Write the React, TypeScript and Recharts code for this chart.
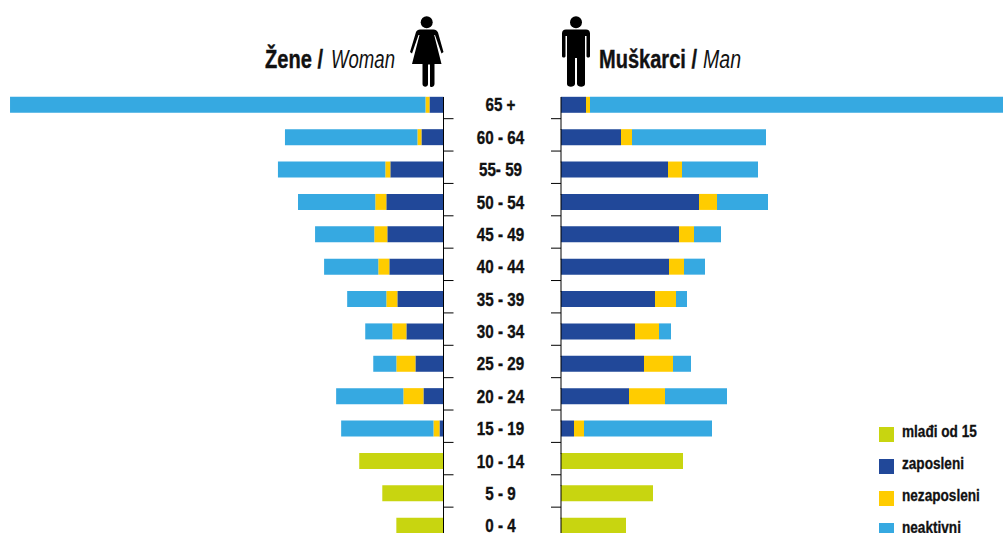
import { BarChart, Bar, XAxis, YAxis } from 'recharts'

const AGES = ['65 +', '60 - 64', '55- 59', '50 - 54', '45 - 49', '40 - 44', '35 - 39', '30 - 34', '25 - 29', '20 - 24', '15 - 19', '10 - 14', '5 - 9', '0 - 4']

const WOMEN_EMPLOYED = [14, 22, 53, 57, 56, 54, 46, 37, 28, 20, 4, 0, 0, 0]
const WOMEN_UNEMPLOYED = [4, 4, 5, 11, 13, 11, 11, 14, 19, 20, 6, 0, 0, 0]
const WOMEN_INACTIVE = [414, 132, 107, 77, 59, 54, 39, 27, 23, 67, 92, 0, 0, 0]
const WOMEN_YOUNG = [0, 0, 0, 0, 0, 0, 0, 0, 0, 0, 0, 84, 61, 47]

const MEN_EMPLOYED = [25, 60, 107, 138, 118, 108, 94, 74, 83, 68, 13, 0, 0, 0]
const MEN_UNEMPLOYED = [4, 11, 14, 18, 15, 15, 21, 24, 29, 36, 10, 0, 0, 0]
const MEN_INACTIVE = [413, 134, 76, 51, 27, 21, 11, 12, 18, 62, 128, 0, 0, 0]
const MEN_YOUNG = [0, 0, 0, 0, 0, 0, 0, 0, 0, 0, 0, 122, 92, 65]

const MAX_VALUE = 442

const COLORS = {
  young: '#C8D510',
  employed: '#214899',
  unemployed: '#FFCC00',
  inactive: '#36A9E1',
}

const LEGEND = [
  { label: 'mlađi od 15', color: COLORS.young },
  { label: 'zaposleni', color: COLORS.employed },
  { label: 'nezaposleni', color: COLORS.unemployed },
  { label: 'neaktivni', color: COLORS.inactive },
]

// the original face is a condensed one, so the text gets squeezed horizontally
const FONT = '"Liberation Sans", sans-serif'

const women = AGES.map((age, i) => ({
  age,
  employed: WOMEN_EMPLOYED[i],
  unemployed: WOMEN_UNEMPLOYED[i],
  inactive: WOMEN_INACTIVE[i],
  young: WOMEN_YOUNG[i],
}))

const men = AGES.map((age, i) => ({
  age,
  employed: MEN_EMPLOYED[i],
  unemployed: MEN_UNEMPLOYED[i],
  inactive: MEN_INACTIVE[i],
  young: MEN_YOUNG[i],
}))

// axis with the age label in the middle and the tick between two rows
function WomenTick({ y, payload }: any) {
  const axisX = 443.5
  return (
    <g>
      <line x1={axisX} x2={axisX} y1={y - 8} y2={y + 25} stroke="#000" strokeWidth={1} />
      {payload.index < AGES.length - 1 && (
        <line x1={axisX} x2={axisX + 10} y1={y + 13.7} y2={y + 13.7} stroke="#000" strokeWidth={1} />
      )}
      <text
        transform={`translate(500.5 ${y + 6.5}) scale(0.8 1)`}
        textAnchor="middle"
        fontFamily={FONT}
        fontWeight={700}
        fontSize={19}
        fill="#111"
        stroke="#111"
        strokeWidth={0.35}
      >
        {payload.value}
      </text>
    </g>
  )
}

function MenTick({ y, payload }: any) {
  const axisX = 11
  return (
    <g>
      <line x1={axisX} x2={axisX} y1={y - 8} y2={y + 25} stroke="#000" strokeWidth={1} />
      {payload.index < AGES.length - 1 && (
        <line x1={axisX - 10} x2={axisX} y1={y + 13.7} y2={y + 13.7} stroke="#000" strokeWidth={1} />
      )}
    </g>
  )
}

function Woman() {
  return (
    <svg width={40} height={74} style={{ position: 'absolute', left: 407, top: 15 }}>
      <circle cx={19.7} cy={7.3} r={6} fill="#000" />
      <path
        d="M13 14.5 H26.5 C28.5 14.5 30 15.5 31 17.5 L36.5 37 L34.5 38.5 L28 20 L27.2 20 L34.5 49 H27.5 V69 C27.5 72.5 23 72.5 23 71 V49.5 H21 V69 C21 72.5 15.5 72.5 15.5 69 V49 H5 L12.5 20 L11.5 20 L5 38.5 L3 37 L9 17 C9.8 15.5 11 14.5 13 14.5 Z"
        fill="#000"
      />
    </svg>
  )
}

function Man() {
  return (
    <svg width={32} height={74} style={{ position: 'absolute', left: 560, top: 15 }}>
      <circle cx={16} cy={7.3} r={6} fill="#000" />
      <path
        d="M6 14.5 H26 C28.5 14.5 30 16 30 18.5 V41 C30 43 26.5 43 26.5 41 V21 H25 V69 C25 72.5 17.5 72.5 17 69 V43 H15 V69 C14.5 72.5 7 72.5 7 69 V21 H5.5 V41 C5.5 43 2 43 2 41 V18.5 C2 16 3.5 14.5 6 14.5 Z"
        fill="#000"
      />
    </svg>
  )
}

function Titles() {
  const common = { y: 68, fontFamily: FONT, fontSize: 26, fill: '#111', lengthAdjust: 'spacingAndGlyphs' as const }
  const heavy = { fontWeight: 700, stroke: '#111', strokeWidth: 0.4 }
  return (
    <svg width={1003} height={90} style={{ position: 'absolute', left: 0, top: 0 }}>
      <text {...common} {...heavy} x={265} textLength={58}>Žene /</text>
      <text {...common} x={331} textLength={64} fontStyle="italic">Woman</text>
      <text {...common} {...heavy} x={599} textLength={98}>Muškarci /</text>
      <text {...common} x={703} textLength={38} fontStyle="italic">Man</text>
    </svg>
  )
}

export default function App() {
  return (
    <div style={{ position: 'absolute', left: 0, top: 0, width: 1003, height: 533, overflow: 'hidden', background: '#fff' }}>
      <Titles />
      <Woman />
      <Man />

      <div style={{ position: 'absolute', left: 0, top: 0 }}>
        <BarChart
          width={550}
          height={542}
          data={women}
          layout="vertical"
          barSize={16}
          margin={{ top: 88.8, right: 0, bottom: 0, left: 0 }}
        >
          <XAxis type="number" hide reversed domain={[0, MAX_VALUE]} />
          <YAxis
            type="category"
            dataKey="age"
            orientation="right"
            width={106.5}
            interval={0}
            axisLine={false}
            tickLine={false}
            tick={<WomenTick />}
          />
          <Bar dataKey="employed" stackId="a" fill={COLORS.employed} isAnimationActive={false} />
          <Bar dataKey="unemployed" stackId="a" fill={COLORS.unemployed} isAnimationActive={false} />
          <Bar dataKey="inactive" stackId="a" fill={COLORS.inactive} isAnimationActive={false} />
          <Bar dataKey="young" stackId="a" fill={COLORS.young} isAnimationActive={false} />
        </BarChart>
      </div>

      <div style={{ position: 'absolute', left: 550, top: 0 }}>
        <BarChart
          width={453}
          height={542}
          data={men}
          layout="vertical"
          barSize={16}
          margin={{ top: 88.8, right: 0, bottom: 0, left: 0 }}
        >
          <XAxis type="number" hide domain={[0, MAX_VALUE]} />
          <YAxis
            type="category"
            dataKey="age"
            width={11}
            interval={0}
            axisLine={false}
            tickLine={false}
            tick={<MenTick />}
          />
          <Bar dataKey="employed" stackId="a" fill={COLORS.employed} isAnimationActive={false} />
          <Bar dataKey="unemployed" stackId="a" fill={COLORS.unemployed} isAnimationActive={false} />
          <Bar dataKey="inactive" stackId="a" fill={COLORS.inactive} isAnimationActive={false} />
          <Bar dataKey="young" stackId="a" fill={COLORS.young} isAnimationActive={false} />
        </BarChart>
      </div>

      {LEGEND.map((item, i) => (
        <div key={item.label} style={{ position: 'absolute', left: 879, top: 427 + i * 32 }}>
          <div style={{ position: 'absolute', left: 0, top: 0, width: 15, height: 15, background: item.color }} />
          <div
            style={{
              position: 'absolute',
              left: 23,
              top: -5,
              fontFamily: FONT,
              fontWeight: 700,
              fontSize: 16,
              lineHeight: '20px',
              color: '#111',
              whiteSpace: 'nowrap',
              transform: 'scaleX(0.85)',
              transformOrigin: 'left center',
              WebkitTextStroke: '0.3px #111',
            }}
          >
            {item.label}
          </div>
        </div>
      ))}
    </div>
  )
}
